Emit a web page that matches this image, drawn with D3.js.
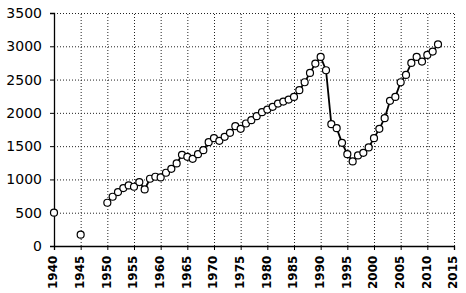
<!DOCTYPE html>
<html>
<head>
<meta charset="utf-8">
<script src="https://cdn.jsdelivr.net/npm/d3@7"></script>
</head>
<body style="margin:0">
<script>
const earlyYears = [1940, 1945]
const earlyValues = [500, 170]

const seriesYears = d3.range(1950, 2013)
const seriesValues = [
    650, 740, 810, 870, 910, 890, 960, 850, 1010, 1040,
    1030, 1100, 1160, 1240, 1370, 1340, 1310, 1380, 1440, 1560,
    1620, 1580, 1640, 1700, 1800, 1760, 1840, 1890, 1950, 2010,
    2050, 2090, 2140, 2170, 2200, 2240, 2340, 2460, 2600, 2740,
    2840, 2640, 1830, 1770, 1550, 1380, 1270, 1360, 1400, 1480,
    1620, 1760, 1920, 2180, 2240, 2460, 2570, 2750, 2840, 2770,
    2870, 2920, 3030
]

const yearTicks = d3.range(1940, 2016, 5)
const valueTicks = d3.range(0, 3501, 500)

function drawChart() {
    const W = 466, H = 293
    const m = { top: 13, right: 12, bottom: 47, left: 54 }

    const svg = d3.select('body').append('svg')
        .attr('width', W)
        .attr('height', H)
        .style('display', 'block')
        .style('background', '#fff')

    const sx = d3.scaleLinear().domain([1940, 2015]).range([m.left, W - m.right])
    const sy = d3.scaleLinear().domain([0, 3500]).range([H - m.bottom, m.top])

    // grid from axes with long ticks
    const gridY = svg.append('g')
        .attr('transform', `translate(${m.left},0)`)
        .call(d3.axisLeft(sy).tickValues(valueTicks.filter(d => d > 0)).tickSize(-(W - m.left - m.right)).tickFormat(() => ''))
    gridY.select('.domain').remove()
    gridY.selectAll('.tick line').attr('stroke', '#222').attr('stroke-dasharray', '1,2')

    const gridX = svg.append('g')
        .attr('transform', `translate(0,${H - m.bottom})`)
        .call(d3.axisBottom(sx).tickValues(yearTicks.filter(d => d > 1940)).tickSize(-(H - m.top - m.bottom)).tickFormat(() => ''))
    gridX.select('.domain').remove()
    gridX.selectAll('.tick line').attr('stroke', '#222').attr('stroke-dasharray', '1,2')

    // y axis
    const gy = svg.append('g')
        .attr('transform', `translate(${m.left},0)`)
        .call(d3.axisLeft(sy).tickValues(valueTicks).tickSize(4).tickPadding(8).tickFormat(d3.format('d')))
    gy.select('.domain').attr('stroke', '#000').attr('stroke-width', 1.3)
    gy.selectAll('.tick line').attr('stroke', '#000')
    gy.selectAll('.tick text')
        .style('font-family', 'Verdana, DejaVu Sans, sans-serif')
        .style('font-size', '14px')
        .attr('fill', '#000')

    // x axis with rotated year labels
    const gx = svg.append('g')
        .attr('transform', `translate(0,${H - m.bottom})`)
        .call(d3.axisBottom(sx).tickValues(yearTicks).tickSize(4).tickFormat(d3.format('d')))
    gx.select('.domain').attr('stroke', '#000').attr('stroke-width', 1.3)
    gx.selectAll('.tick line').attr('stroke', '#000')
    gx.selectAll('.tick text')
        .style('font-family', 'DejaVu Sans, sans-serif')
        .style('font-size', '12px')
        .style('font-weight', 'bold')
        .style('text-anchor', 'end')
        .attr('fill', '#000')
        .attr('dx', '-0.8em')
        .attr('dy', '-0.35em')
        .attr('transform', 'rotate(-90)')

    // series line
    const path = d3.line()
        .x((d, i) => sx(seriesYears[i]))
        .y(d => sy(d))

    svg.append('path')
        .datum(seriesValues)
        .attr('d', path)
        .attr('fill', 'none')
        .attr('stroke', '#000')
        .attr('stroke-width', 1.8)

    // open markers
    const pts = earlyYears.map((yr, i) => ({ yr, v: earlyValues[i] }))
        .concat(seriesYears.map((yr, i) => ({ yr, v: seriesValues[i] })))

    svg.append('g')
        .selectAll('circle')
        .data(pts)
        .enter()
        .append('circle')
        .attr('cx', d => sx(d.yr))
        .attr('cy', d => sy(d.v))
        .attr('r', 3.5)
        .attr('fill', '#fff')
        .attr('stroke', '#000')
        .attr('stroke-width', 1.2)
}

drawChart()
</script>
</body>
</html>
